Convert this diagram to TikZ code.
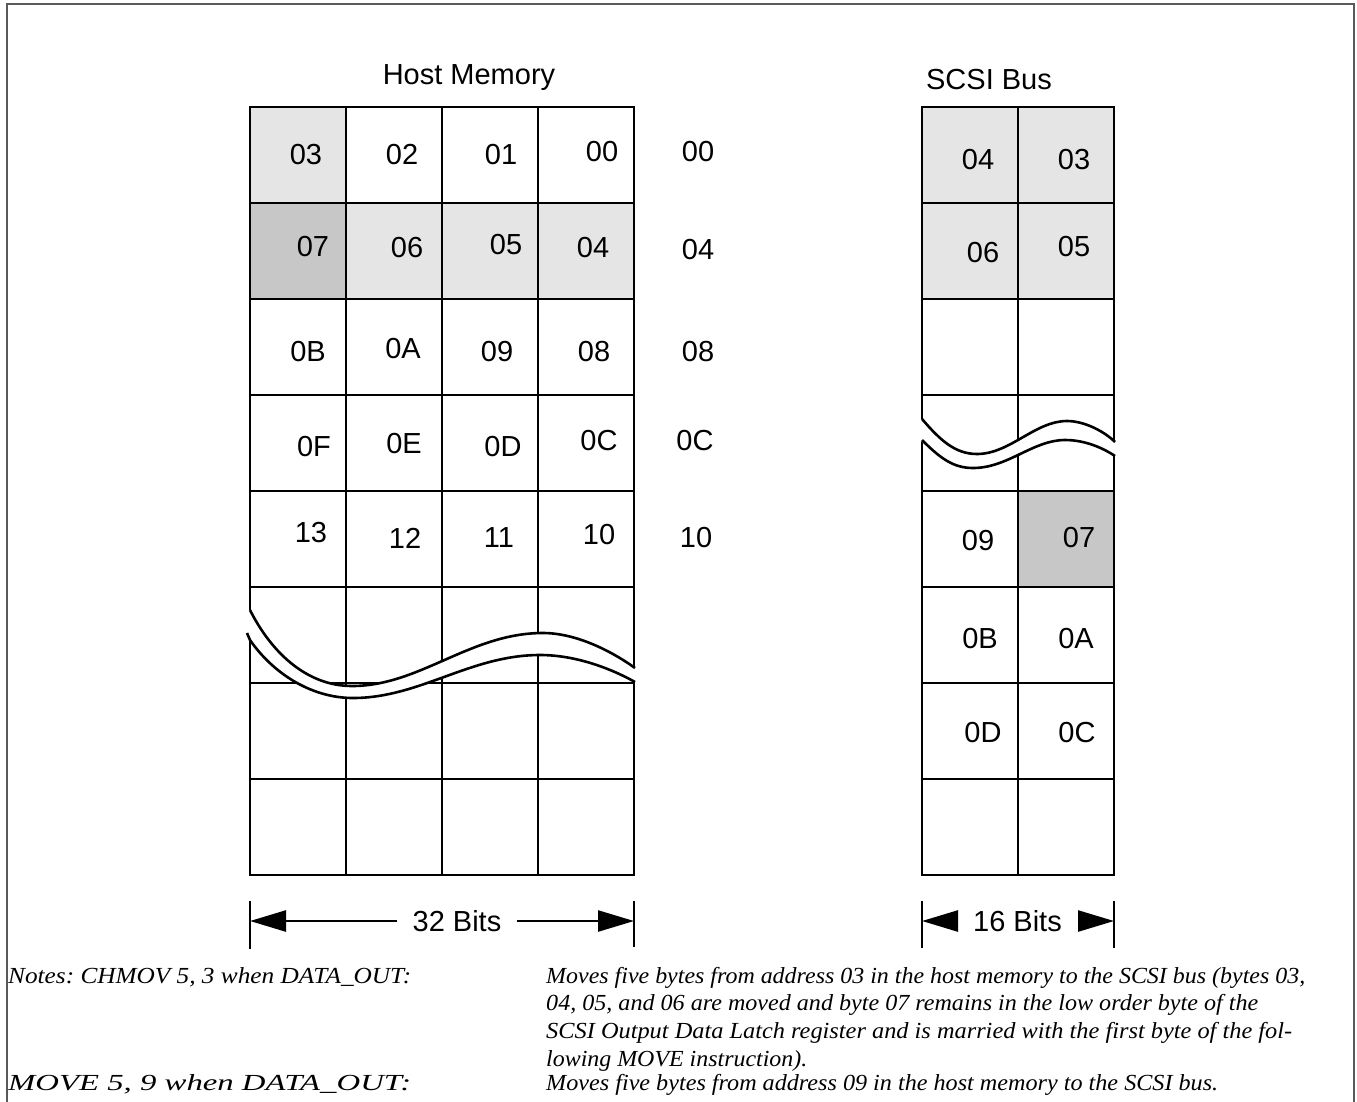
\documentclass[tikz,border=0pt]{standalone}
\usepackage{fontspec}
\usepackage{graphicx}
\setmainfont{Liberation Sans}
\newfontfamily\notefont{Liberation Serif}
\usetikzlibrary{arrows.meta}
\frenchspacing
\newcommand{\fitw}[2]{\resizebox{#1pt}{\height}{#2}}
\begin{document}
\begin{tikzpicture}[x=1pt,y=-1pt,
  gridline/.style={line width=2.6pt, line cap=rect},
  breakline/.style={line width=2.6pt},
  lab/.style={inner sep=0pt, font=\fontsize{29}{33}\selectfont},
  note/.style={inner sep=0pt, anchor=base west, font=\notefont\itshape\fontsize{23}{27}\selectfont},
  shadelight/.style={fill=black!10},
  shadedark/.style={fill=black!22},
  tick/.style={line width=2.5pt},
  dimarrow/.style={line width=2.5pt, -{Triangle[length=36pt,width=21pt]}},
  framecol/.style={draw=black!65, line width=2pt}]

\useasboundingbox (0,0) rectangle (1357,1101);

% frame
\draw[framecol] (7,1110) -- (7,4) -- (1354,4) -- (1354,1110);

% shading
\fill[shadelight] (250,107) rectangle (346,203);
\fill[shadedark]  (250,203) rectangle (346,299);
\fill[shadelight] (346,203) rectangle (634,299);
\fill[shadelight] (922,107) rectangle (1114,299);
\fill[shadedark]  (1018,491) rectangle (1114,587);

% host memory grid
\foreach \x in {250,346,442,538,634} \draw[gridline] (\x,107) -- (\x,875);
\foreach \y in {107,203,299,395,491,587,683,779,875} \draw[gridline] (250,\y) -- (634,\y);
% scsi grid
\foreach \x in {922,1018,1114} \draw[gridline] (\x,107) -- (\x,875);
\foreach \y in {107,203,299,395,491,587,683,779,875} \draw[gridline] (922,\y) -- (1114,\y);

% host break
\fill[white] (250,610) .. controls (270,650) and (305,686) .. (352,686)
  .. controls (420,686) and (470,633) .. (543,633)
  .. controls (575,633) and (610,650) .. (637,668)
  -- (637,682)
  .. controls (610,668) and (575,655) .. (540,655)
  .. controls (470,655) and (420,698) .. (353,698)
  .. controls (310,698) and (272,672) .. (250,640) -- (247,634) -- (247,610) -- cycle;
\draw[breakline] (250,610) .. controls (270,650) and (305,686) .. (352,686)
  .. controls (420,686) and (470,633) .. (543,633)
  .. controls (575,633) and (610,650) .. (635,668);
\draw[breakline] (247,633) -- (250,640) .. controls (272,672) and (310,698) .. (353,698)
  .. controls (420,698) and (470,655) .. (540,655)
  .. controls (575,655) and (610,668) .. (635,682);

% scsi break
\fill[white] (922,419) .. controls (940,440) and (955,454) .. (977,454)
  .. controls (1010,454) and (1035,421) .. (1067,421)
  .. controls (1085,421) and (1105,432) .. (1117,443)
  -- (1117,457)
  .. controls (1103,448) and (1085,440) .. (1065,440)
  .. controls (1033,440) and (1008,468) .. (973,468)
  .. controls (953,468) and (940,458) .. (920,440) -- (920,419) -- cycle;
\draw[breakline] (922,419) .. controls (940,440) and (955,454) .. (977,454)
  .. controls (1010,454) and (1035,421) .. (1067,421)
  .. controls (1085,421) and (1105,432) .. (1115,442);
\draw[breakline] (922,440) .. controls (940,458) and (953,468) .. (973,468)
  .. controls (1008,468) and (1033,440) .. (1065,440)
  .. controls (1085,440) and (1103,448) .. (1115,456);

% titles
\node[lab, anchor=base] (hmtitle) at (469,84) {Host Memory};
\node[lab, anchor=base] (sbtitle) at (989,89) {SCSI Bus};

% host memory labels
\node[lab] (h03) at (306,155) {03};
\node[lab] (h02) at (402,155) {02};
\node[lab] (h01) at (501,155) {01};
\node[lab] (h00) at (602,152) {00};
\node[lab] (h07) at (313,247) {07};
\node[lab] (h06) at (407,248) {06};
\node[lab] (h05) at (506,245) {05};
\node[lab] (h04) at (593,248) {04};
\node[lab] (h0B) at (308,352) {0B};
\node[lab] (h0A) at (403,349) {0A};
\node[lab] (h09) at (497,352) {09};
\node[lab] (h08) at (594,352) {08};
\node[lab] (h0F) at (314,447) {0F};
\node[lab] (h0E) at (404,444) {0E};
\node[lab] (h0D) at (503,447) {0D};
\node[lab] (h0C) at (599,441) {0C};
\node[lab] (h13) at (311,533) {13};
\node[lab] (h12) at (405,538) {12};
\node[lab] (h11) at (499,538) {11};
\node[lab] (h10) at (599,535) {10};

% addresses
\node[lab] (a00) at (698,152) {00};
\node[lab] (a04) at (698,250) {04};
\node[lab] (a08) at (698,352) {08};
\node[lab] (a0C) at (695,441) {0C};
\node[lab] (a10) at (696,538) {10};

% scsi labels
\node[lab] (s04) at (978,160) {04};
\node[lab] (s03) at (1074,160) {03};
\node[lab] (s06) at (983,253) {06};
\node[lab] (s05) at (1074,247) {05};
\node[lab] (s09) at (978,541) {09};
\node[lab] (s07) at (1079,538) {07};
\node[lab] (s0B) at (980,639) {0B};
\node[lab] (s0A) at (1076,639) {0A};
\node[lab] (s0D) at (983,733) {0D};
\node[lab] (s0C) at (1077,733) {0C};

% dimension: 32 bits
\draw[tick] (250,901) -- (250,949);
\draw[tick] (634,901) -- (634,947);
\coordinate (t32l) at (250,921);
\coordinate (t32r) at (634,921);
\node[lab, inner xsep=15pt] (b32) at (457,921) {32 Bits};
\draw[dimarrow] (b32.west) -- (t32l);
\draw[dimarrow] (b32.east) -- (t32r);

% dimension: 16 bits
\draw[tick] (922,901) -- (922,948);
\draw[tick] (1114,901) -- (1114,948);
\coordinate (t16l) at (922,921);
\coordinate (t16r) at (1114,921);
\node[lab, inner xsep=17pt] (b16) at (1017.5,921) {16 Bits};
\draw[dimarrow] (b16.west) -- (t16l);
\draw[dimarrow] (b16.east) -- (t16r);

% notes
\node[note] (n1) at (8,983) {\fitw{403}{Notes: CHMOV 5, 3 when DATA\_OUT:}};
\node[note] (n2) at (8,1090) {\fitw{403}{MOVE 5, 9 when DATA\_OUT:}};
\node[note] (d1) at (546,983) {\fitw{759}{Moves five bytes from address 03 in the host memory to the SCSI bus (bytes 03,}};
\node[note] (d2) at (546,1010.5) {\fitw{712}{04, 05, and 06 are moved and byte 07 remains in the low order byte of the}};
\node[note] (d3) at (546,1038) {\fitw{746}{SCSI Output Data Latch register and is married with the first byte of the fol-}};
\node[note] (d4) at (546,1066) {\scalebox{1.04}[1]{lowing MOVE instruction).}};
\node[note] (d5) at (546,1090) {\fitw{672}{Moves five bytes from address 09 in the host memory to the SCSI bus.}};
\end{tikzpicture}
\end{document}
